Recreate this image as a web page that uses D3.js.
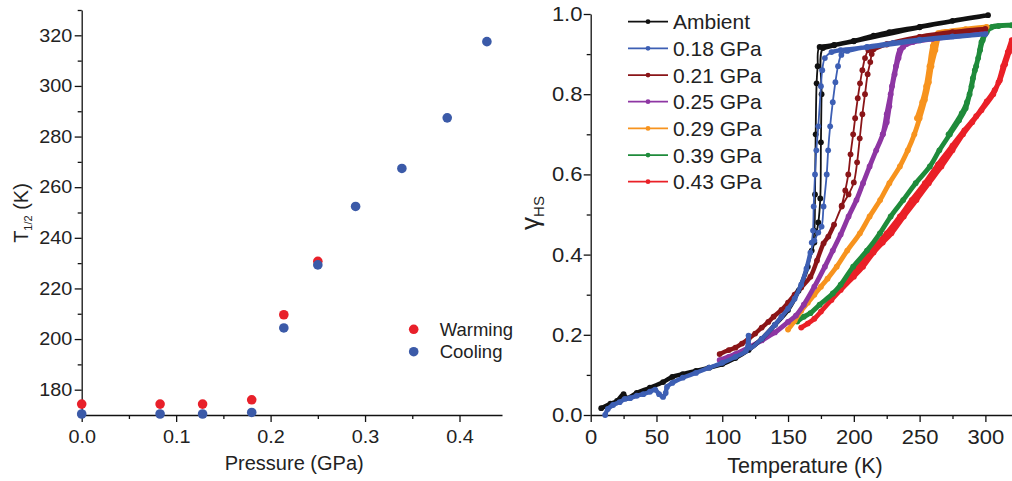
<!DOCTYPE html>
<html>

<head>
  <meta charset='utf-8'>
  <title>Spin crossover under pressure</title>
  <script type='text/javascript' src='https://cdn.jsdelivr.net/npm/d3@7/dist/d3.min.js'></script>
  <style>
    body { margin: 0; background: #fff; }
    text { font-family: "Liberation Sans", Arial, sans-serif; }
  </style>
</head>

<body>
  <script type='text/javascript'>
    // ---- left panel data: T1/2 vs pressure
    const warmP = [0.0, 0.083, 0.128, 0.18, 0.214, 0.25];
    const warmT = [174.3, 174.3, 174.3, 176.0, 209.6, 230.7];
    const coolP = [0.0, 0.083, 0.128, 0.18, 0.214, 0.25, 0.29, 0.339, 0.387, 0.429];
    const coolT = [170.4, 170.4, 170.4, 171.0, 204.4, 229.3, 252.4, 267.4, 287.4, 317.5];
    const leftLegend = ["Warming", "Cooling"];

    // ---- right panel data: gamma_HS vs temperature, [T, gamma], warming then cooling
    const seriesNames = ["Ambient", "0.18 GPa", "0.21 GPa", "0.25 GPa", "0.29 GPa", "0.39 GPa", "0.43 GPa"];
    const seriesColors = ["#111111", "#3d5fb4", "#8a1518", "#8e36a3", "#f7931e", "#1f8b3b", "#ea2027"];

    const ambient = [[8, 0.017], [15, 0.028], [20, 0.035], [25, 0.052], [27, 0.042], [35, 0.055], [45, 0.068],
      [55, 0.082], [62, 0.095], [70, 0.102], [80, 0.11], [90, 0.118], [100, 0.127], [110, 0.142], [120, 0.162],
      [130, 0.19], [140, 0.225], [150, 0.262], [158, 0.31], [165, 0.37], [170, 0.43], [173, 0.48], [174.5, 0.54],
      [175, 0.68], [175.5, 0.8], [176.5, 0.915], [185, 0.922], [200, 0.933], [215, 0.946], [227, 0.955],
      [250, 0.968], [275, 0.983], [302, 0.997], [250, 0.967], [200, 0.932], [185, 0.923], [174, 0.918],
      [172.5, 0.87], [171.7, 0.827], [171, 0.7], [170.5, 0.55], [170, 0.46], [168, 0.41]];
    const p018 = [[11, 0.0], [13, 0.015], [17, 0.025], [22, 0.032], [26, 0.04], [30, 0.042], [35, 0.048], [40, 0.052],
      [45, 0.058], [49, 0.063], [52, 0.052], [55, 0.045], [57, 0.055], [58, 0.07], [62, 0.08], [70, 0.093],
      [80, 0.105], [90, 0.118], [100, 0.13], [110, 0.145], [118, 0.16], [120, 0.198], [121, 0.168], [130, 0.19],
      [140, 0.225], [145, 0.245], [150, 0.265], [155, 0.29], [160, 0.325], [164, 0.365], [167, 0.405], [170, 0.435],
      [173, 0.455], [175.5, 0.47], [177, 0.52], [179.4, 0.6], [180.5, 0.66], [182, 0.72], [184, 0.78], [186, 0.83],
      [188, 0.87], [190.5, 0.898], [195, 0.908], [210, 0.918], [230, 0.928], [250, 0.936], [275, 0.944],
      [300, 0.95], [250, 0.934], [210, 0.917], [190, 0.91], [183, 0.905], [178, 0.89], [176, 0.86], [175, 0.82],
      [173, 0.72], [171.5, 0.66], [170.5, 0.6], [169.5, 0.52], [169, 0.46], [168, 0.43]];
    const p021 = [[98, 0.152], [105, 0.162], [110, 0.168], [115, 0.178], [120, 0.19], [125, 0.203], [130, 0.218],
      [135, 0.232], [139, 0.245], [145, 0.262], [150, 0.28], [155, 0.3], [160, 0.318], [167, 0.345], [172, 0.385],
      [177, 0.428], [180.6, 0.445], [185, 0.475], [190.8, 0.52], [196, 0.55], [200, 0.58], [202.5, 0.63],
      [204.5, 0.69], [206.5, 0.75], [208.5, 0.8], [210.5, 0.85], [212.5, 0.88], [213.6, 0.9], [215, 0.912],
      [225, 0.925], [250, 0.943], [275, 0.955], [300, 0.963], [250, 0.942], [225, 0.924], [213, 0.913],
      [211, 0.91], [208.5, 0.89], [206.5, 0.86], [204.7, 0.827], [203, 0.79], [201, 0.74], [199.5, 0.7],
      [197.5, 0.65], [195.8, 0.6], [193.5, 0.56], [190.8, 0.522]];
    const p025 = [[98, 0.137], [105, 0.145], [110, 0.152], [120, 0.168], [130, 0.186], [140, 0.206], [150, 0.232],
      [156, 0.248], [162, 0.275], [170, 0.32], [178, 0.37], [184, 0.41], [190, 0.45], [196, 0.495], [202, 0.536],
      [207, 0.578], [212, 0.62], [217, 0.66], [222, 0.7], [225, 0.75], [228, 0.8], [231, 0.85], [234, 0.89],
      [237.5, 0.918], [245, 0.93], [260, 0.94], [280, 0.947], [300, 0.952], [260, 0.938], [240, 0.925],
      [235, 0.91], [232, 0.87], [229, 0.82], [227, 0.77], [225, 0.73], [222, 0.7]];
    const p029 = [[150, 0.213], [155, 0.235], [160, 0.26], [165, 0.28], [170, 0.3], [175, 0.32], [180, 0.34],
      [187, 0.37], [195, 0.41], [204.6, 0.453], [212, 0.495], [220, 0.536], [227, 0.578], [235, 0.62], [241, 0.66],
      [246, 0.7], [250, 0.74], [254, 0.786], [257, 0.83], [259, 0.87], [262, 0.91], [265, 0.945], [270, 0.955],
      [285, 0.962], [301, 0.968], [280, 0.958], [264, 0.952], [260, 0.92], [257.5, 0.87], [255, 0.82],
      [252, 0.78], [248, 0.74]];
    const p039 = [[157, 0.233], [162, 0.245], [167, 0.254], [174, 0.275], [184, 0.303], [190, 0.325], [199.5, 0.37],
      [210, 0.41], [219.8, 0.453], [228, 0.495], [237.5, 0.536], [247, 0.578], [257.8, 0.62], [265, 0.66],
      [273, 0.7], [280, 0.735], [285, 0.765], [288, 0.8], [290.5, 0.84], [293, 0.87], [296, 0.91], [298, 0.935],
      [301, 0.955], [304, 0.966], [310, 0.97], [320, 0.972], [305, 0.968], [300, 0.952], [297, 0.93],
      [294.5, 0.89], [292, 0.86], [289.5, 0.82], [286, 0.78], [282, 0.752], [272, 0.7]];
    const p043 = [[160, 0.218], [165, 0.228], [170, 0.24], [175, 0.258], [183, 0.287], [190, 0.312], [200, 0.345],
      [207, 0.37], [215, 0.405], [222, 0.43], [228.6, 0.453], [238, 0.495], [247.6, 0.536], [257, 0.578],
      [266.6, 0.62], [275, 0.66], [283, 0.7], [290, 0.73], [297, 0.76], [306, 0.8], [310, 0.83], [313.5, 0.87],
      [317, 0.905], [320, 0.935], [318, 0.905], [315, 0.875], [311, 0.835], [307, 0.81], [301, 0.782],
      [293, 0.745], [284, 0.71], [275, 0.672], [264, 0.625], [254, 0.578], [244, 0.536], [235, 0.495],
      [225, 0.453], [212, 0.405], [200, 0.355], [190, 0.32]];
    const seriesData = [ambient, p018, p021, p025, p029, p039, p043];
    // below this gamma the sharp curves are drawn as a dense band (many overlapping points)
    const bandBelow = [0.42, 0.42, 0.5, 1.1, 1.1, 1.1, 1.1];

    const width = 1012;
    const height = 481;

    const svg = d3.select("body")
      .append("svg")
      .attr("width", width)
      .attr("height", height)
      .attr("viewBox", `0 0 ${width} ${height}`);

    // helper: major + minor ticks for an axis
    function drawAxis(g, axisFn, scale, majors, minors, fmt, fontSize, pad, stretch) {
      g.call(axisFn(scale).tickValues(minors).tickSize(4).tickSizeOuter(0).tickFormat(""))
        .call(s => s.select(".domain").remove());
      const m = g.append("g").call(axisFn(scale).tickValues(majors).tickSize(7).tickSizeOuter(0)
        .tickPadding(pad).tickFormat(fmt));
      m.selectAll("text").attr("font-size", fontSize).attr("fill", "#222")
        .attr("transform", `scale(${stretch},1)`)
        .style("font-family", '"Liberation Sans", Arial, sans-serif');
      g.selectAll("line, path").attr("stroke", "#111").attr("stroke-width", 1.3);
    }

    // ---------------- left panel
    const xL = d3.scaleLinear().domain([0, 0.445]).range([81.7, 502]);
    const yL = d3.scaleLinear().domain([170, 330]).range([415, 10]);

    drawAxis(svg.append("g").attr("transform", "translate(0,415)"), d3.axisBottom, xL,
      [0, 0.1, 0.2, 0.3, 0.4], [0.05, 0.15, 0.25, 0.35], d3.format(".1f"), 18, 8, 1.1);
    drawAxis(svg.append("g").attr("transform", "translate(81.7,0)"), d3.axisLeft, yL,
      d3.range(180, 321, 20), d3.range(170, 331, 20), d3.format("d"), 18, 1.5, 1.1);

    svg.append("g").selectAll("circle")
      .data(warmP)
      .join("circle")
      .attr("cx", d => xL(d))
      .attr("cy", (d, i) => yL(warmT[i]))
      .attr("r", 4.8)
      .attr("fill", "#e8202a");

    svg.append("g").selectAll("circle")
      .data(coolP)
      .join("circle")
      .attr("cx", d => xL(d))
      .attr("cy", (d, i) => yL(coolT[i]))
      .attr("r", 4.8)
      .attr("fill", "#3b5aa8");

    const legL = svg.append("g").attr("transform", "translate(413.7,329.3)");
    legL.selectAll("circle")
      .data(leftLegend)
      .join("circle")
      .attr("cy", (d, i) => i * 22.4)
      .attr("r", 4.8)
      .attr("fill", (d, i) => i === 0 ? "#e8202a" : "#3b5aa8");
    legL.selectAll("text")
      .data(leftLegend)
      .join("text")
      .attr("x", 26)
      .attr("y", (d, i) => i * 22.4)
      .attr("dy", "0.36em")
      .attr("font-size", 18.5)
      .attr("fill", "#222")
      .text(d => d);

    svg.append("text")
      .attr("x", xL(0.225))
      .attr("y", 470)
      .attr("text-anchor", "middle")
      .attr("font-size", 20)
      .attr("fill", "#222")
      .text("Pressure (GPa)");

    const ylabL = svg.append("text")
      .attr("transform", "translate(28,213) rotate(-90)")
      .attr("text-anchor", "middle")
      .attr("font-size", 20)
      .attr("fill", "#222");
    ylabL.append("tspan").text("T");
    ylabL.append("tspan").attr("font-size", 11).attr("dy", 4).text("1/2");
    ylabL.append("tspan").attr("dy", -4).text(" (K)");

    // ---------------- right panel
    const xR = d3.scaleLinear().domain([0, 320]).range([590.7, 1011.7]);
    const yR = d3.scaleLinear().domain([0, 1]).range([415, 14]);

    drawAxis(svg.append("g").attr("transform", "translate(0,415)"), d3.axisBottom, xR,
      d3.range(0, 301, 50), d3.range(25, 320, 50), d3.format("d"), 20, 8, 1.1);
    drawAxis(svg.append("g").attr("transform", "translate(590.7,0)"), d3.axisLeft, yR,
      d3.range(0, 1.01, 0.2), d3.range(0.1, 1, 0.2), d3.format(".1f"), 20, 0.5, 1.1);

    const line = d3.line()
      .x(d => xR(d[0]))
      .y(d => yR(d[1]))
      .curve(d3.curveCatmullRom.alpha(0.5));

    const plot = svg.append("g");
    // draw the high-pressure curves first, ambient on top
    const order = [6, 5, 4, 3, 2, 0, 1];
    order.forEach(k => {
      const g = plot.append("g");
      const sharp = bandBelow[k] < 1;
      // dense band part
      g.append("path")
        .attr("d", line.defined(d => !sharp || d[1] < bandBelow[k] || d[1] > 0.9)(seriesData[k]))
        .attr("fill", "none")
        .attr("stroke", seriesColors[k])
        .attr("stroke-width", sharp ? 4.4 : 4.8)
        .attr("stroke-linejoin", "round")
        .attr("stroke-linecap", "round");
      line.defined(() => true);
      // thin connecting line through every point
      g.append("path")
        .attr("d", line(seriesData[k]))
        .attr("fill", "none")
        .attr("stroke", seriesColors[k])
        .attr("stroke-width", 1.8)
        .attr("stroke-linejoin", "round");
      g.selectAll("circle")
        .data(seriesData[k])
        .join("circle")
        .attr("cx", d => xR(d[0]))
        .attr("cy", d => yR(d[1]))
        .attr("r", 2.9)
        .attr("fill", seriesColors[k]);
    });

    const legR = svg.append("g").attr("transform", "translate(628,21.7)");
    const item = legR.selectAll("g")
      .data(seriesNames)
      .join("g")
      .attr("transform", (d, i) => `translate(0,${i * 26.67})`);
    item.append("line")
      .attr("x1", 0).attr("x2", 40)
      .attr("stroke", (d, i) => seriesColors[i])
      .attr("stroke-width", 1.8);
    item.append("circle")
      .attr("cx", 20)
      .attr("r", 2.4)
      .attr("fill", (d, i) => seriesColors[i]);
    item.append("text")
      .attr("x", 45)
      .attr("dy", "0.36em")
      .attr("font-size", 21)
      .attr("fill", "#222")
      .text(d => d);

    svg.append("text")
      .attr("x", 805)
      .attr("y", 473)
      .attr("text-anchor", "middle")
      .attr("font-size", 21.5)
      .attr("fill", "#222")
      .text("Temperature (K)");

    const ylabR = svg.append("text")
      .attr("transform", "translate(539,213) rotate(-90)")
      .attr("text-anchor", "middle")
      .attr("font-size", 26)
      .attr("fill", "#222");
    ylabR.append("tspan").text("γ");
    ylabR.append("tspan").attr("font-size", 15).attr("dy", 5).text("HS");
  </script>
</body>

</html>
